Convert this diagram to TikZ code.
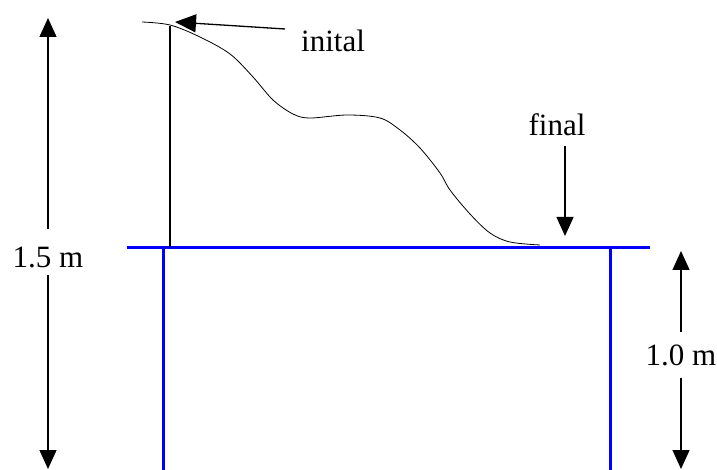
\documentclass[tikz,border=0pt]{standalone}
\usepackage{fontspec}
\setmainfont{Liberation Serif}
\usetikzlibrary{arrows.meta}
\definecolor{tableblue}{HTML}{0000FF}

\begin{document}
\begin{tikzpicture}[x=1pt,y=-1pt,
  dimarrow/.style={-{Triangle[width=17pt,length=19pt]},line width=1.3pt},
  lbl/.style={font=\fontsize{31}{34}\selectfont,inner sep=0pt}]
  \useasboundingbox (0,0) rectangle (717,470);
  % table
  \coordinate (topL) at (127,248);
  \coordinate (topR) at (650,248);
  \coordinate (legL) at (163,248);
  \coordinate (legR) at (610,248);
  \draw[tableblue,line width=3pt] (topL) -- (topR);
  \draw[tableblue,line width=3pt] (legL) -- (163,471);
  \draw[tableblue,line width=3pt] (legR) -- (610,471);
  % ramp
  \coordinate (post) at (170,26);
  \draw[line width=1.3pt] (post) -- (170,247);
  \draw[line width=0.8pt] plot[smooth,tension=0.55] coordinates {
    (142,22) (170,25) (200,37) (230,54) (253,77) (273,100) (293,114)
    (310,118) (347,115) (380,118) (400,130) (420,148) (440,173)
    (450,190) (470,214) (490,233) (510,242) (540,245)};
  % labels
  \node[lbl] (inital) at (333,41) {inital};
  \node[lbl] (final) at (557,125) {final};
  \node[lbl] (h15) at (48,257) {1.5 m};
  \node[lbl] (h10) at (681,355) {1.0 m};
  \coordinate (initip) at (175,22);
  \coordinate (fintip) at (565,236);
  \draw[dimarrow,-{Triangle[width=18pt,length=21pt]}] (285,29) -- (initip);
  \draw[dimarrow] ([xshift=8pt,yshift=-21pt]final.center) -- (fintip);
  % heights
  \draw[dimarrow] ([yshift=28pt]h15.center) -- (48,18);
  \draw[dimarrow] ([yshift=-18pt]h15.center) -- (48,469);
  \draw[dimarrow] ([yshift=23pt]h10.center) -- (681,251);
  \draw[dimarrow] ([yshift=-23pt]h10.center) -- (681,469);
\end{tikzpicture}
\end{document}
